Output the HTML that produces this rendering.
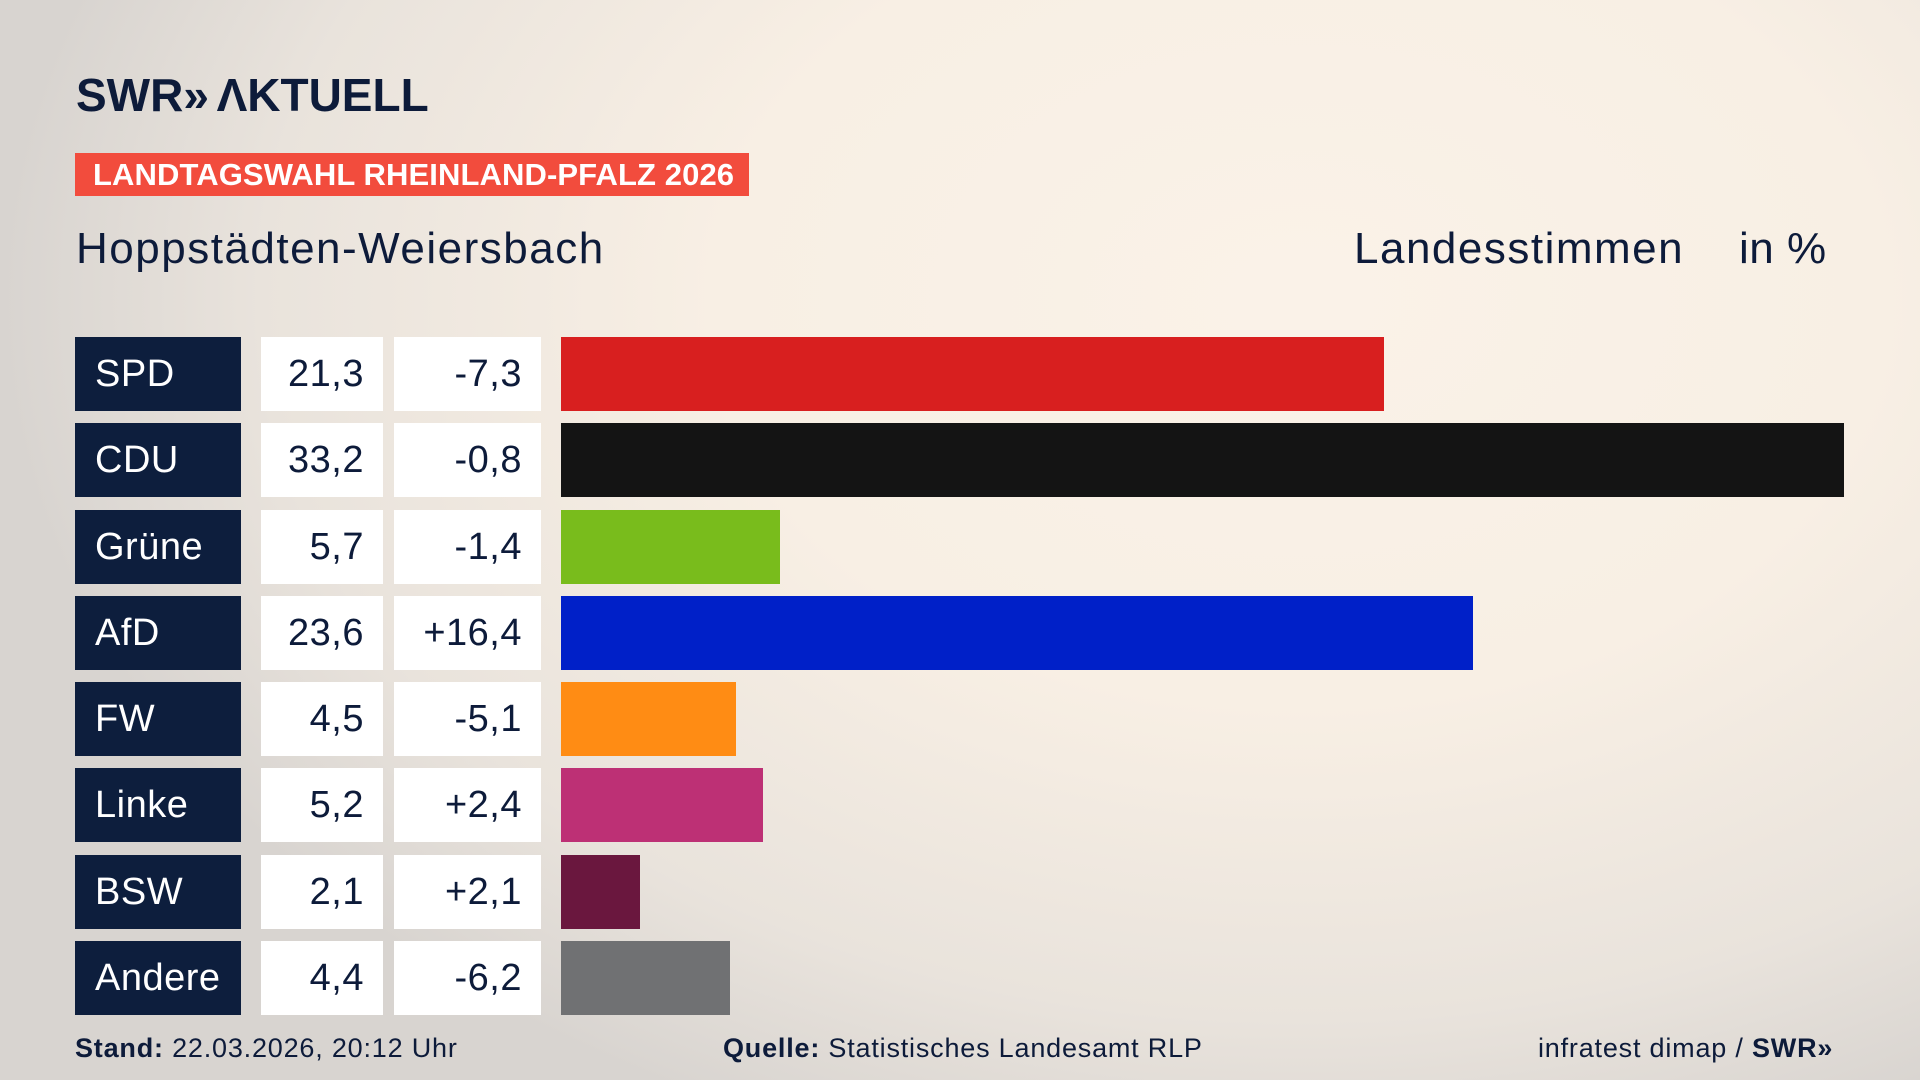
<!DOCTYPE html>
<html><head><meta charset="utf-8"><style>
*{margin:0;padding:0;box-sizing:border-box}
body{width:1920px;height:1080px;overflow:hidden;font-family:"Liberation Sans",sans-serif;color:#0d1b3a;
background:radial-gradient(ellipse 1300px 900px at 1300px 300px,#faf2e8 0%,#f8efe4 45%,#e9e3dc 80%,#d8d4d0 100%);position:relative}
.a{position:absolute}
.logo{left:76px;top:68px;font-size:46px;font-weight:bold;letter-spacing:0px;color:#0d1b3a}
.banner{left:75px;top:153px;width:674px;height:43px;background:#f24c3d;color:#fff;font-weight:bold;font-size:31px;line-height:43px;padding-left:18px;letter-spacing:0.1px}
.sub{top:224px;font-size:44px;line-height:50px;letter-spacing:1.5px}
.box{height:74px;line-height:74px;font-size:38px;letter-spacing:0.5px}
.p{left:75px;width:166px;background:#0d1e3d;color:#fff;padding-left:20px}
.v{left:261px;width:122px;background:#fff;text-align:right;padding-right:19px}
.d{left:394px;width:147px;background:#fff;text-align:right;padding-right:19px}
.b{left:561px;height:74px}
.f{top:1032px;font-size:27px;line-height:32px;letter-spacing:0.8px}
</style></head><body>
<div class="a logo">SWR&#187;&#8202;&#8202;ΛKTUELL</div>
<div class="a banner">LANDTAGSWAHL RHEINLAND-PFALZ 2026</div>
<div class="a sub" style="left:76px">Hoppstädten-Weiersbach</div>
<div class="a sub" style="left:1354px">Landesstimmen</div>
<div class="a sub" style="left:1739px;letter-spacing:0.5px">in %</div>

<div class="a box p" style="top:337px">SPD</div><div class="a box v" style="top:337px">21,3</div><div class="a box d" style="top:337px">-7,3</div><div class="a b" style="top:337px;width:823px;background:#d81f1f"></div>
<div class="a box p" style="top:423px">CDU</div><div class="a box v" style="top:423px">33,2</div><div class="a box d" style="top:423px">-0,8</div><div class="a b" style="top:423px;width:1283px;background:#141414"></div>
<div class="a box p" style="top:510px">Grüne</div><div class="a box v" style="top:510px">5,7</div><div class="a box d" style="top:510px">-1,4</div><div class="a b" style="top:510px;width:219px;background:#79bc1c"></div>
<div class="a box p" style="top:596px">AfD</div><div class="a box v" style="top:596px">23,6</div><div class="a box d" style="top:596px">+16,4</div><div class="a b" style="top:596px;width:912px;background:#0020c8"></div>
<div class="a box p" style="top:682px">FW</div><div class="a box v" style="top:682px">4,5</div><div class="a box d" style="top:682px">-5,1</div><div class="a b" style="top:682px;width:175px;background:#ff8c14"></div>
<div class="a box p" style="top:768px">Linke</div><div class="a box v" style="top:768px">5,2</div><div class="a box d" style="top:768px">+2,4</div><div class="a b" style="top:768px;width:202px;background:#bd3075"></div>
<div class="a box p" style="top:855px">BSW</div><div class="a box v" style="top:855px">2,1</div><div class="a box d" style="top:855px">+2,1</div><div class="a b" style="top:855px;width:79px;background:#6a173e"></div>
<div class="a box p" style="top:941px">Andere</div><div class="a box v" style="top:941px">4,4</div><div class="a box d" style="top:941px">-6,2</div><div class="a b" style="top:941px;width:169px;background:#707173"></div>

<div class="a f" style="left:75px"><b>Stand:</b> 22.03.2026, 20:12 Uhr</div>
<div class="a f" style="left:723px"><b>Quelle:</b> Statistisches Landesamt RLP</div>
<div class="a f" style="left:1538px">infratest dimap / <b>SWR&#187;</b></div>
</body></html>
